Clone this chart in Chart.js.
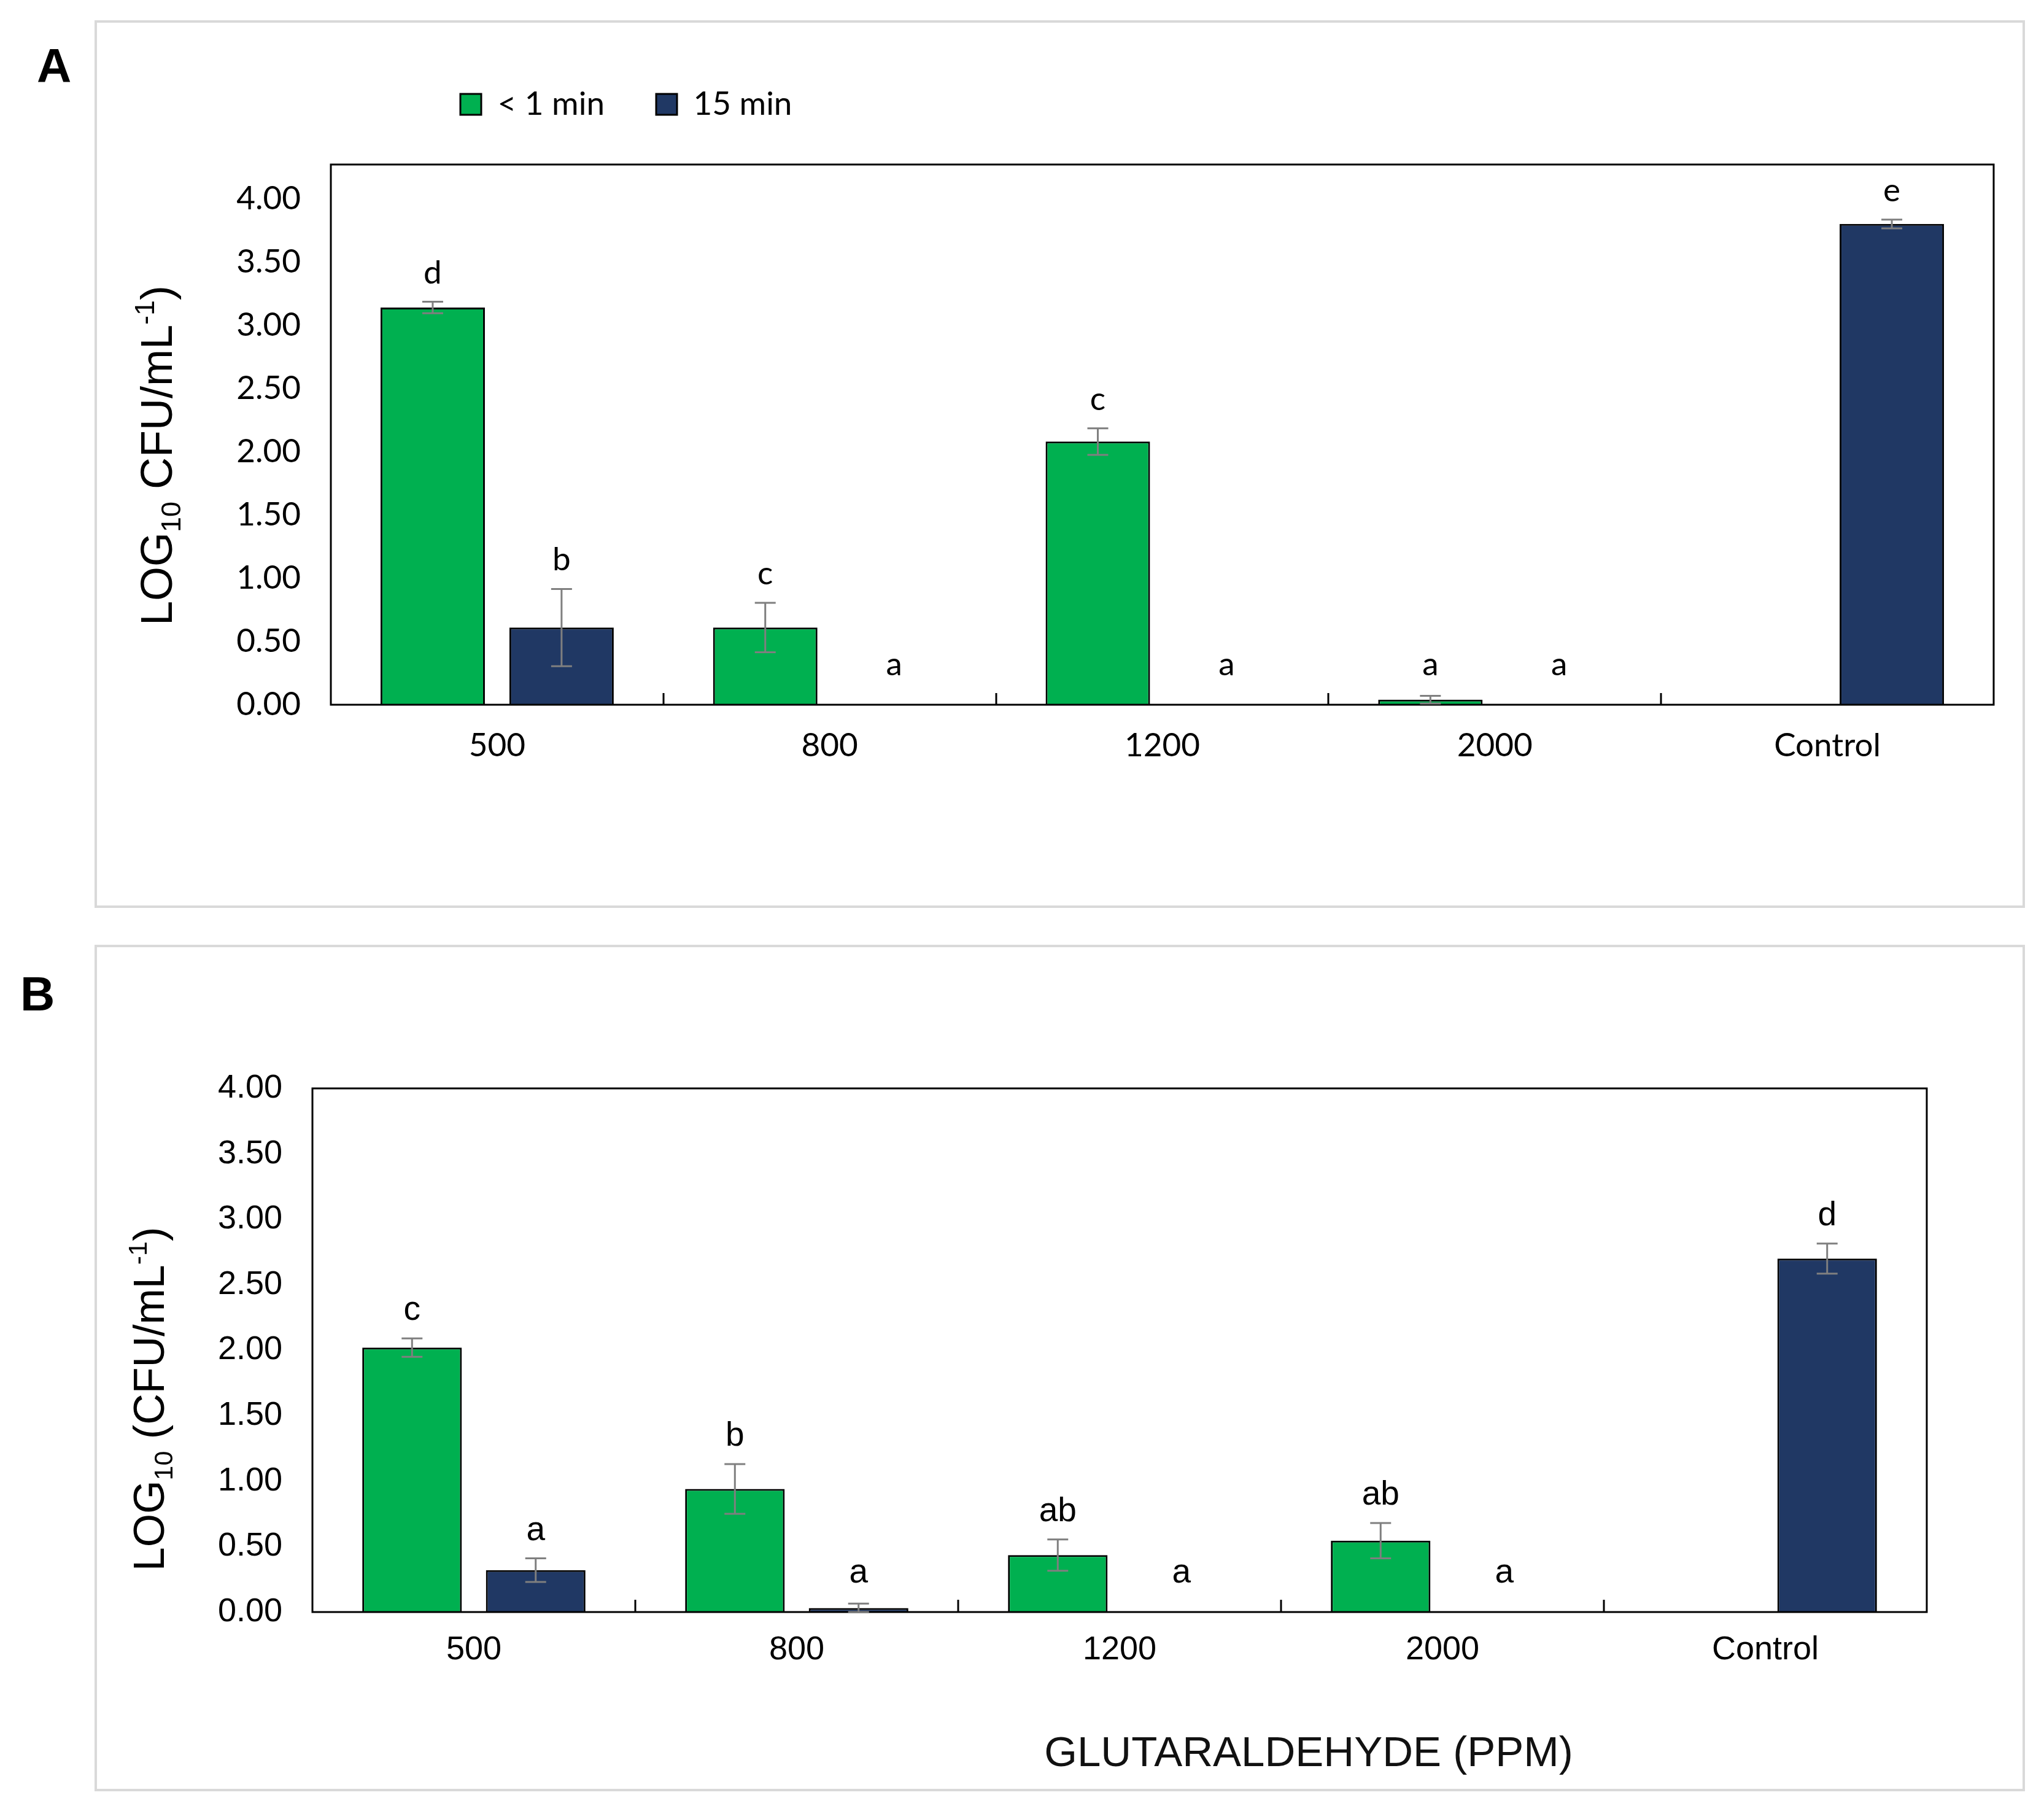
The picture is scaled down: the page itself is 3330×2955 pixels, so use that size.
<!DOCTYPE html>
<html><head><meta charset="utf-8">
<script src="https://cdn.jsdelivr.net/npm/chart.js@4.4.1/dist/chart.umd.min.js"></script>
<style>
html,body{margin:0;padding:0;background:#fff;}
body{width:3330px;height:2955px;position:relative;overflow:hidden;}
.frame{position:absolute;border:4px solid #d9d9d9;box-sizing:border-box;}
.tag{position:absolute;font:bold 78px "Liberation Sans",Arial,sans-serif;color:#000;line-height:1;}
canvas{position:absolute;left:0;}
</style></head><body>
<div class="frame" style="left:154px;top:33px;width:3145px;height:1446px"></div>
<div class="frame" style="left:154px;top:1539px;width:3145px;height:1379px"></div>
<div class="tag" style="left:60px;top:68px">A</div>
<div class="tag" style="left:33px;top:1580px">B</div>
<canvas id="cA" width="3330" height="1500" style="top:0"></canvas>
<canvas id="cB" width="3330" height="1455" style="top:1500px"></canvas>
<script>
// ---------- data ----------
const categories = ['500', '800', '1200', '2000', 'Control'];
const seriesNames = ['< 1 min', '15 min'];
const yTickValues = [0, 0.5, 1, 1.5, 2, 2.5, 3, 3.5, 4];

const aShort = [3.14, 0.61, 2.08, 0.04, null];
const aShortErr = [0.045, 0.195, 0.105, 0.03, null];
const aShortLetters = ['d', 'c', 'c', 'a', null];
const aLong = [0.61, 0, 0, 0, 3.80];
const aLongErr = [0.305, 0, 0, 0, 0.035];
const aLongLetters = ['b', 'a', 'a', 'a', 'e'];

const bShort = [2.02, 0.94, 0.435, 0.545, null];
const bShortErr = [0.07, 0.19, 0.12, 0.135, null];
const bShortLetters = ['c', 'b', 'ab', 'ab', null];
const bLong = [0.32, 0.03, 0, 0, 2.70];
const bLongErr = [0.09, 0.035, 0, 0, 0.115];
const bLongLetters = ['a', 'a', 'a', 'a', 'd'];

const aYTitle = [['LOG', 'n'], ['10', 'sub'], [' CFU/mL', 'n'], ['-1', 'sup'], [')', 'n']];
const bYTitle = [['LOG', 'n'], ['10', 'sub'], [' (CFU/mL', 'n'], ['-1', 'sup'], [')', 'n']];
const bXTitle = 'GLUTARALDEHYDE (PPM)';

const GREEN = '#00B050';
const NAVY = '#203864';

function drawRich(ctx, segs, cx, cy, baseOff, family, size) {
  ctx.save();
  ctx.translate(cx, cy);
  ctx.rotate(-Math.PI / 2);
  const small = Math.round(size * 0.62);
  const parts = segs.map(([t, k]) => {
    const s = k === 'n' ? size : small;
    ctx.font = s + 'px "' + family + '"';
    return {t, k, s, w: ctx.measureText(t).width};
  });
  const W = parts.reduce((a, p) => a + p.w, 0);
  let x = -W / 2;
  ctx.fillStyle = '#000';
  ctx.textBaseline = 'alphabetic';
  ctx.textAlign = 'left';
  parts.forEach(p => {
    ctx.font = p.s + 'px "' + family + '"';
    const dy = p.k === 'sub' ? size * 0.2 : (p.k === 'sup' ? -size * 0.4 : 0);
    ctx.fillText(p.t, x, baseOff + dy);
    x += p.w;
  });
  ctx.restore();
}

function makePlugin(cfg) {
  return {
    id: 'extras',
    afterLayout(chart) {
      if (cfg.legendPos && chart.legend) {
        const lg = chart.legend;
        const p = chart.options.plugins.legend.labels.padding;
        lg.left = cfg.legendPos.x - p;
        lg.top = cfg.legendPos.y - p;
        lg.right = 3300; lg.bottom = lg.top + 400;
        lg.width = lg.right - lg.left; lg.height = 400;
      }
    },
    afterDatasetsDraw(chart) {
      const ctx = chart.ctx, ca = chart.chartArea, xs = chart.scales.x, ys = chart.scales.y;
      ctx.save();
      ctx.strokeStyle = '#000';
      ctx.lineWidth = 3;
      ctx.strokeRect(ca.left, ca.top, ca.right - ca.left, ca.bottom - ca.top);
      const n = chart.data.labels.length;
      const cw = (ca.right - ca.left) / n;
      for (let i = 1; i < n; i++) {
        const x = Math.round(xs.getPixelForValue(i) - cw / 2);
        ctx.beginPath(); ctx.moveTo(x, ca.bottom); ctx.lineTo(x, ca.bottom - cfg.tickLen); ctx.stroke();
      }
      const zeroPx = ys.getPixelForValue(0);
      chart.data.datasets.forEach((ds, di) => {
        const meta = chart.getDatasetMeta(di);
        ds.data.forEach((v, i) => {
          if (v === null || v === undefined) return;
          const bar = meta.data[i];
          const e = ds.errors[i] || 0;
          const x = bar.x;
          const yT = ys.getPixelForValue(v + e);
          if (e > 0) {
            const yB = ys.getPixelForValue(Math.max(v - e, 0));
            ctx.strokeStyle = '#7f7f7f'; ctx.lineWidth = 3;
            ctx.beginPath();
            ctx.moveTo(x, yT); ctx.lineTo(x, yB);
            ctx.moveTo(x - cfg.cap, yT); ctx.lineTo(x + cfg.cap, yT);
            ctx.moveTo(x - cfg.cap, yB); ctx.lineTo(x + cfg.cap, yB);
            ctx.stroke();
          }
          const L = ds.letters[i];
          if (L) {
            ctx.fillStyle = '#000';
            ctx.font = cfg.letterSize + 'px "' + cfg.family + '"';
            ctx.textAlign = 'center';
            ctx.textBaseline = 'alphabetic';
            ctx.fillText(L, x, Math.min(yT - 30, zeroPx - 48));
          }
        });
      });
      ctx.restore();
    },
    afterDraw(chart) {
      const ctx = chart.ctx;
      drawRich(ctx, cfg.yTitle, cfg.yTitlePos.x, cfg.yTitlePos.y, 26, 'Liberation Sans', cfg.yTitleSize);
      if (cfg.xTitle) {
        ctx.save();
        ctx.fillStyle = '#111';
        ctx.font = '69px "Liberation Sans"';
        ctx.textAlign = 'center';
        ctx.textBaseline = 'middle';
        ctx.fillText(cfg.xTitle, cfg.xTitlePos.x, cfg.xTitlePos.y);
        ctx.restore();
      }
    }
  };
}

function buildChart(id, cfg) {
  const font = {family: cfg.family, size: cfg.tickSize};
  return new Chart(document.getElementById(id), {
    type: 'bar',
    data: {
      labels: categories,
      datasets: [
        {label: seriesNames[0], data: cfg.short, errors: cfg.shortErr, letters: cfg.shortLetters,
         backgroundColor: GREEN, borderColor: '#000', borderWidth: 3, borderSkipped: 'start',
         categoryPercentage: cfg.catPct, barPercentage: cfg.barPct},
        {label: seriesNames[1], data: cfg.long, errors: cfg.longErr, letters: cfg.longLetters,
         backgroundColor: NAVY, borderColor: '#000', borderWidth: 3, borderSkipped: 'start',
         categoryPercentage: cfg.catPct, barPercentage: cfg.barPct}
      ]
    },
    options: {
      responsive: false, animation: false, devicePixelRatio: 1, events: [],
      layout: {padding: {left: 0, right: cfg.padRight, top: cfg.padTop, bottom: 0}},
      plugins: {
        legend: cfg.legendPos ? {
          display: true, position: 'top', align: 'start', maxHeight: 1,
          labels: {boxWidth: 34, boxHeight: 34, padding: 84, color: '#000',
                   font: {family: cfg.family, size: cfg.tickSize}}
        } : {display: false},
        tooltip: {enabled: false}
      },
      scales: {
        x: {
          grid: {display: false, drawTicks: false},
          border: {display: false},
          ticks: {font: font, color: '#000', padding: cfg.xPad, maxRotation: 0, autoSkip: false},
          afterFit: s => { s.height = cfg.xHeight; }
        },
        y: {
          min: 0, max: cfg.yMax,
          grid: {display: false, drawTicks: false},
          border: {display: false},
          afterBuildTicks: s => { s.ticks = yTickValues.map(v => ({value: v})); },
          ticks: {font: font, color: '#000', padding: 49, callback: v => Number(v).toFixed(2)},
          afterFit: s => { s.width = cfg.yWidth; }
        }
      }
    },
    plugins: [makePlugin(cfg)]
  });
}

buildChart('cA', {
  short: aShort, shortErr: aShortErr, shortLetters: aShortLetters,
  long: aLong, longErr: aLongErr, longLetters: aLongLetters,
  family: 'Lato', tickSize: 53, letterSize: 53,
  catPct: 0.775, barPct: 0.81, padTop: 267, padRight: 82, yWidth: 539, xHeight: 352,
  xPad: 35, yMax: 4.27, tickLen: 19, cap: 17,
  legendPos: {x: 750, y: 143.5},
  yTitle: aYTitle, yTitlePos: {x: 254, y: 742}, yTitleSize: 72
});

buildChart('cB', {
  short: bShort, shortErr: bShortErr, shortLetters: bShortLetters,
  long: bLong, longErr: bLongErr, longLetters: bLongLetters,
  family: 'Liberation Sans', tickSize: 54, letterSize: 55,
  catPct: 0.766, barPct: 0.805, padTop: 273, padRight: 191, yWidth: 509, xHeight: 329,
  xPad: 30, yMax: 4, tickLen: 20, cap: 17,
  legendPos: null,
  yTitle: bYTitle, yTitlePos: {x: 241, y: 779}, yTitleSize: 70,
  xTitle: bXTitle, xTitlePos: {x: 2132, y: 1358}
});
</script>
</body></html>
